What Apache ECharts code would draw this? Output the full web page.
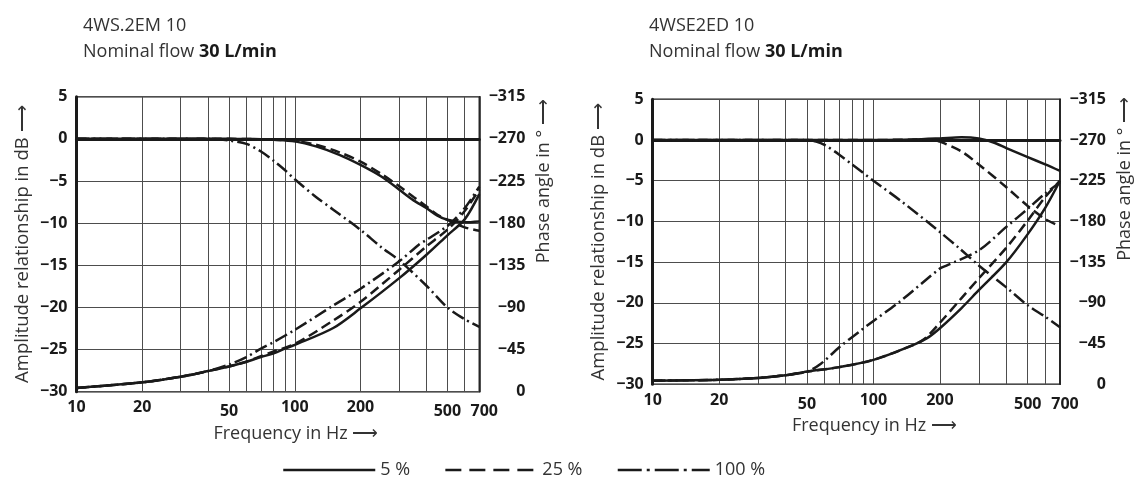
<!DOCTYPE html>
<html><head><meta charset="utf-8">
<script src="https://cdn.jsdelivr.net/npm/echarts@6/dist/echarts.min.js"></script>
<style>html,body{margin:0;padding:0;background:#fff}#c{width:1141px;height:481px}</style>
</head><body><div id="c"></div>
<script>
// ---- axes ----
const freqGridValues = [10,20,30,40,50,60,70,80,90,100,200,300,400,500,600,700];
const freqLabelValues = [10,20,50,100,200,500,700];
const freqLowLabels = [50,500];
const freqEndLabel = 700;
const ampRange = [-30, 5];      // dB
const phaseRange = [-315, 0];   // degrees

const legendNames = ['5 %', '25 %', '100 %'];

// ---- Left chart: 4WS.2EM 10 ----
const L_amp5_f   = [10,50,60,70,80,100,125,160,200,250,300,350,400,450,500,600,700];
const L_amp5_v   = [0,0,-0.02,-0.05,-0.1,-0.3,-0.9,-1.9,-3.1,-4.5,-6.0,-7.3,-8.2,-9.1,-9.6,-9.9,-9.8];
const L_amp25_f  = [10,50,60,70,80,100,125,160,200,250,300,350,400,450,500,600,700];
const L_amp25_v  = [0,0,-0.02,-0.05,-0.1,-0.25,-0.7,-1.6,-2.7,-4.2,-5.6,-6.9,-8.0,-9.0,-9.6,-10.5,-10.9];
const L_amp100_f = [10,40,45,50,60,70,80,90,100,125,150,200,250,300,400,500,600,700];
const L_amp100_v = [0,0,-0.05,-0.2,-0.6,-1.5,-2.6,-3.7,-4.8,-6.9,-8.4,-10.8,-12.9,-14.4,-17.4,-20.0,-21.4,-22.3];

const L_ph5_f    = [10,20,30,40,50,60,70,80,90,100,150,200,300,400,500,600,700];
const L_ph5_v    = [-4,-10,-16,-22,-27,-32,-37,-41,-46,-50,-68,-89,-121,-146,-167,-184,-211];
const L_ph25_f   = [10,20,30,40,50,60,70,80,100,150,200,300,400,500,600,700];
const L_ph25_v   = [-4,-10,-16,-22,-27,-32,-38,-43,-51,-76,-96,-130,-155,-173,-193,-216];
const L_ph100_f  = [10,20,30,40,50,60,70,80,100,150,200,300,370,400,500,600,700];
const L_ph100_v  = [-4,-10,-16,-22,-29,-37,-46,-53,-66,-92,-110,-139,-157,-162,-177,-196,-219];

// ---- Right chart: 4WSE2ED 10 ----
const R_amp5_f   = [10,100,150,200,250,300,350,400,500,600,700];
const R_amp5_v   = [0,0,0.05,0.2,0.35,0.2,-0.3,-1.0,-2.1,-3.0,-3.8];
const R_amp25_f  = [10,100,150,180,200,250,300,400,500,600,700];
const R_amp25_v  = [0,0,0.05,0.1,-0.2,-1.4,-3.0,-5.8,-8.1,-9.7,-10.6];
const R_amp100_f = [10,50,55,60,70,80,100,135,200,245,300,400,500,600,700];
const R_amp100_v = [0,0,-0.2,-0.6,-1.8,-3.0,-5.0,-7.6,-11.3,-13.3,-15.4,-18.1,-20.3,-21.7,-23.0];

const R_ph5_f    = [10,20,30,40,50,70,100,150,175,200,250,300,400,500,600,700];
const R_ph5_v    = [-4,-5,-7,-10,-14,-19,-27,-43,-51,-62,-84,-104,-135,-166,-195,-225];
const R_ph25_f   = [10,20,30,40,50,70,100,150,170,200,250,300,400,500,600,700];
const R_ph25_v   = [-4,-5,-7,-10,-14,-19,-27,-43,-50,-68,-95,-117,-151,-181,-207,-225];
const R_ph100_f  = [10,20,30,40,50,58,70,86,100,131,200,213,300,400,500,600,700];
const R_ph100_v  = [-4,-5,-7,-10,-14,-23,-41,-58,-70,-91,-128,-131,-148,-174,-194,-211,-223];

// ---- build ----
const FONT = "'Open Sans', 'Noto Sans', sans-serif";
const INK = '#1a1a1a';
const GRIDC = '#4d4d4d';
const ARROW = '\u27f6';
const minus = v => String(v).replace('-', '\u2212');
const zip = (f, v) => f.map((x, i) => [x, v[i]]);
const dashTypes = ['solid', [10, 5], [13, 4, 2, 4]];

const grids = [
  {left: 76.5, top: 96.7, width: 402.8, height: 295},
  {left: 652.7, top: 99.3, width: 407.3, height: 285}
];

const tickFont = {fontFamily: FONT, fontSize: 16, fontWeight: 'bold', color: INK};

function xAxisFor(gi) {
  return {
    type: 'log', logBase: 10, gridIndex: gi, min: 10, max: 700,
    name: 'Frequency in Hz ' + ARROW, nameLocation: 'middle', nameGap: 25,
    nameTextStyle: {fontFamily: FONT, fontSize: 18, color: '#333', padding: [0, 0, 0, 36]},
    axisLine: {show: true, lineStyle: {color: INK, width: 3}},
    axisTick: {show: false, customValues: freqGridValues},
    splitLine: {show: true, lineStyle: {color: GRIDC, width: 1}},
    axisLabel: Object.assign({
      customValues: freqLabelValues, margin: 8,
      formatter: v => (v === freqEndLabel ? '{end|' : freqLowLabels.indexOf(v) >= 0 ? '{lo|' : '{hi|') + v + '}',
      rich: {
        hi: Object.assign({}, tickFont),
        lo: Object.assign({padding: [4, 0, 0, 0]}, tickFont),
        end: Object.assign({padding: [4, 0, 0, 10]}, tickFont)
      }
    }, tickFont)
  };
}
function ampAxisFor(gi) {
  return {
    type: 'value', gridIndex: gi, position: 'left', min: ampRange[0], max: ampRange[1], interval: 5,
    name: 'Amplitude relationship in dB ' + ARROW, nameLocation: 'middle', nameGap: 44,
    nameTextStyle: {fontFamily: FONT, fontSize: 18.5, color: '#333'},
    axisLine: {show: true, onZero: false, lineStyle: {color: INK, width: 3}},
    axisTick: {show: false},
    splitLine: {show: true, lineStyle: {color: GRIDC, width: 1}},
    axisLabel: Object.assign({margin: 9, formatter: minus}, tickFont)
  };
}
function phaseAxisFor(gi) {
  return {
    type: 'value', gridIndex: gi, position: 'right', min: phaseRange[0], max: phaseRange[1], interval: 45,
    inverse: true,
    name: 'Phase angle in \u00b0 ' + ARROW, nameLocation: 'middle', nameGap: 56,
    nameTextStyle: {fontFamily: FONT, fontSize: 18, color: '#333', padding: [0, 0, 0, 126]},
    axisLine: {show: true, onZero: false, lineStyle: {color: INK, width: 1.5}},
    axisTick: {show: false},
    splitLine: {show: false},
    axisLabel: Object.assign({margin: 46, align: 'right', formatter: minus}, tickFont)
  };
}
function line(name, xi, yi, f, v, k) {
  return {
    type: 'line', name: name, xAxisIndex: xi, yAxisIndex: yi,
    data: zip(f, v), symbol: 'none', showSymbol: false, smooth: 0.3,
    lineStyle: {color: INK, width: 2.5, type: dashTypes[k]},
    itemStyle: {color: INK}, silent: true, z: 5
  };
}

const series = [
  line(legendNames[0], 0, 0, L_amp5_f, L_amp5_v, 0),
  line(legendNames[1], 0, 0, L_amp25_f, L_amp25_v, 1),
  line(legendNames[2], 0, 0, L_amp100_f, L_amp100_v, 2),
  line(legendNames[0], 0, 1, L_ph5_f, L_ph5_v, 0),
  line(legendNames[1], 0, 1, L_ph25_f, L_ph25_v, 1),
  line(legendNames[2], 0, 1, L_ph100_f, L_ph100_v, 2),
  line(legendNames[0], 1, 2, R_amp5_f, R_amp5_v, 0),
  line(legendNames[1], 1, 2, R_amp25_f, R_amp25_v, 1),
  line(legendNames[2], 1, 2, R_amp100_f, R_amp100_v, 2),
  line(legendNames[0], 1, 3, R_ph5_f, R_ph5_v, 0),
  line(legendNames[1], 1, 3, R_ph25_f, R_ph25_v, 1),
  line(legendNames[2], 1, 3, R_ph100_f, R_ph100_v, 2)
];

const titleRich = {
  n: {fontFamily: FONT, fontSize: 18, color: '#333', fontWeight: 'normal', lineHeight: 26},
  b: {fontFamily: FONT, fontSize: 18, color: '#1a1a1a', fontWeight: 'bold', lineHeight: 26}
};
const titleStyle = {fontFamily: FONT, fontSize: 18, fontWeight: 'normal', color: '#333', rich: titleRich};

const chart = echarts.init(document.getElementById('c'), null, {renderer: 'canvas'});
chart.setOption({
  animation: false,
  backgroundColor: '#fff',
  title: [
    {left: 78, top: 8, text: '{n|4WS.2EM 10}\n{n|Nominal flow }{b|30 L/min}', textStyle: titleStyle},
    {left: 644, top: 8, text: '{n|4WSE2ED 10}\n{n|Nominal flow }{b|30 L/min}', textStyle: titleStyle}
  ],
  legend: {
    left: 277, top: 456, itemWidth: 92, itemHeight: 18, itemGap: 34,
    selectedMode: false,
    itemStyle: {opacity: 0},
    lineStyle: {width: 2.5, color: INK},
    textStyle: {fontFamily: FONT, fontSize: 18, color: '#333'},
    data: [
      {name: legendNames[0]},
      {name: legendNames[1], lineStyle: {type: [16, 8]}},
      {name: legendNames[2], lineStyle: {type: [24, 5, 3, 5]}}
    ]
  },
  grid: grids.map(g => Object.assign({show: true, borderColor: INK, borderWidth: 1.5, backgroundColor: 'transparent'}, g)),
  xAxis: [xAxisFor(0), xAxisFor(1)],
  yAxis: [ampAxisFor(0), phaseAxisFor(0), ampAxisFor(1), phaseAxisFor(1)],
  series: series
});
</script>
</body></html>
